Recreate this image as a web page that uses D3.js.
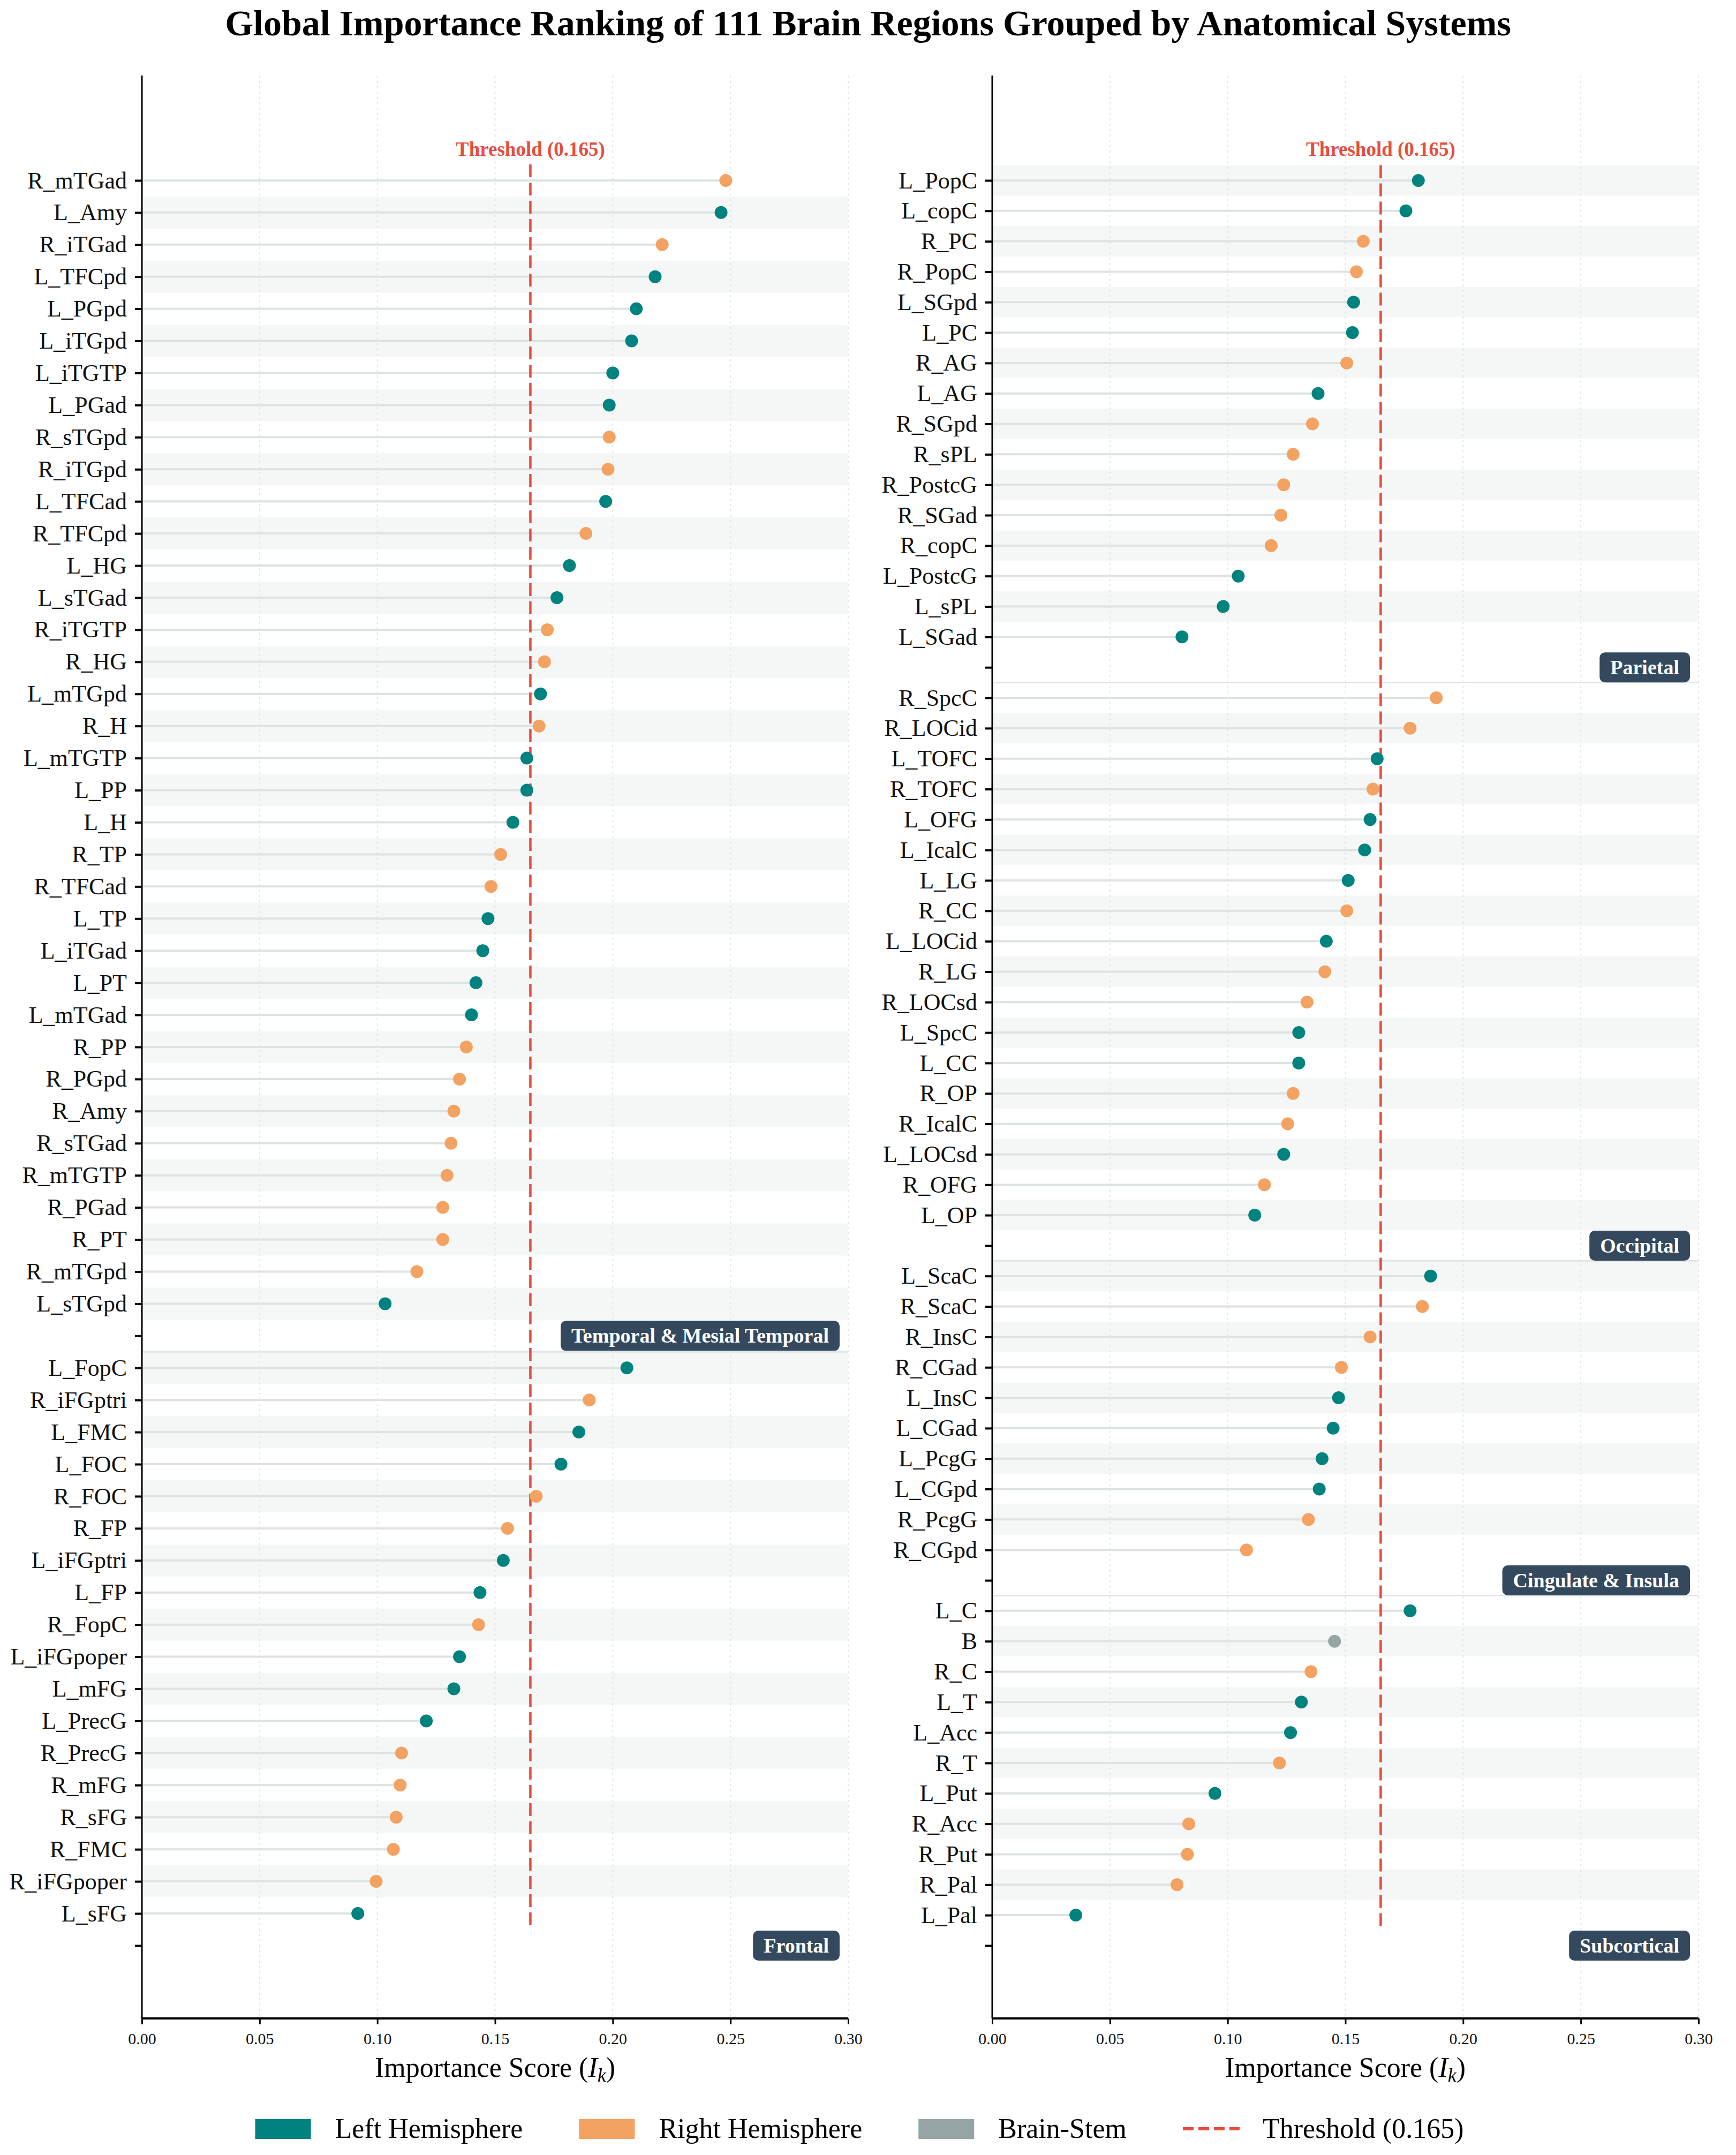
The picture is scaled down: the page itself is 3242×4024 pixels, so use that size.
<!DOCTYPE html>
<html>
<head>
<meta charset="utf-8">
<script src="https://cdn.jsdelivr.net/npm/d3@7"></script>
<style>
  body { margin: 0; background: #ffffff; }
  text { font-family: "Liberation Serif", "Times New Roman", serif; }
</style>
</head>
<body>
<script>
// region names and scores per anatomical system
var temporalNames = ["R_mTGad", "L_Amy", "R_iTGad", "L_TFCpd", "L_PGpd", "L_iTGpd", "L_iTGTP", "L_PGad",
  "R_sTGpd", "R_iTGpd", "L_TFCad", "R_TFCpd", "L_HG", "L_sTGad", "R_iTGTP", "R_HG", "L_mTGpd", "R_H",
  "L_mTGTP", "L_PP", "L_H", "R_TP", "R_TFCad", "L_TP", "L_iTGad", "L_PT", "L_mTGad", "R_PP", "R_PGpd",
  "R_Amy", "R_sTGad", "R_mTGTP", "R_PGad", "R_PT", "R_mTGpd", "L_sTGpd"];
var temporalValues = [0.248, 0.246, 0.221, 0.218, 0.210, 0.208, 0.200, 0.1985, 0.1985, 0.198, 0.197,
  0.1886, 0.1816, 0.1763, 0.1722, 0.171, 0.1693, 0.1687, 0.1635, 0.1635, 0.1576, 0.1524, 0.1483, 0.147,
  0.1448, 0.1419, 0.140, 0.1378, 0.1349, 0.1325, 0.1313, 0.1296, 0.1278, 0.1278, 0.1168, 0.1033];

var frontalNames = ["L_FopC", "R_iFGptri", "L_FMC", "L_FOC", "R_FOC", "R_FP", "L_iFGptri", "L_FP",
  "R_FopC", "L_iFGpoper", "L_mFG", "L_PrecG", "R_PrecG", "R_mFG", "R_sFG", "R_FMC", "R_iFGpoper", "L_sFG"];
var frontalValues = [0.206, 0.190, 0.1856, 0.178, 0.1675, 0.1553, 0.1535, 0.1436, 0.143, 0.1349, 0.1325,
  0.1208, 0.1103, 0.1097, 0.108, 0.1068, 0.0995, 0.0917];

var parietalNames = ["L_PopC", "L_copC", "R_PC", "R_PopC", "L_SGpd", "L_PC", "R_AG", "L_AG", "R_SGpd",
  "R_sPL", "R_PostcG", "R_SGad", "R_copC", "L_PostcG", "L_sPL", "L_SGad"];
var parietalValues = [0.181, 0.1757, 0.1576, 0.1547, 0.1535, 0.153, 0.1506, 0.1384, 0.136, 0.1278,
  0.1238, 0.1226, 0.1185, 0.1045, 0.0981, 0.0806];

var occipitalNames = ["R_SpcC", "R_LOCid", "L_TOFC", "R_TOFC", "L_OFG", "L_IcalC", "L_LG", "R_CC",
  "L_LOCid", "R_LG", "R_LOCsd", "L_SpcC", "L_CC", "R_OP", "R_IcalC", "L_LOCsd", "R_OFG", "L_OP"];
var occipitalValues = [0.1886, 0.1775, 0.1635, 0.1617, 0.1605, 0.1582, 0.1512, 0.1506, 0.1419, 0.1413,
  0.1337, 0.1302, 0.1302, 0.1278, 0.1255, 0.1238, 0.1156, 0.1115];

var cingulateNames = ["L_ScaC", "R_ScaC", "R_InsC", "R_CGad", "L_InsC", "L_CGad", "L_PcgG", "L_CGpd",
  "R_PcgG", "R_CGpd"];
var cingulateValues = [0.1862, 0.1827, 0.1605, 0.1483, 0.1471, 0.1448, 0.1401, 0.1389, 0.1343, 0.108];

var subcorticalNames = ["L_C", "B", "R_C", "L_T", "L_Acc", "R_T", "L_Put", "R_Acc", "R_Put", "R_Pal", "L_Pal"];
var subcorticalValues = [0.1775, 0.1454, 0.1354, 0.1313, 0.1267, 0.122, 0.0946, 0.0835, 0.0829, 0.0785, 0.0355];

var threshold = 0.165;
var xTicks = [0.00, 0.05, 0.10, 0.15, 0.20, 0.25, 0.30];
var legendLabels = ["Left Hemisphere", "Right Hemisphere", "Brain-Stem", "Threshold (0.165)"];

var leftGroups = [
  {name: "Temporal & Mesial Temporal", regions: temporalNames, values: temporalValues},
  {name: "Frontal", regions: frontalNames, values: frontalValues}
];
var rightGroups = [
  {name: "Parietal", regions: parietalNames, values: parietalValues},
  {name: "Occipital", regions: occipitalNames, values: occipitalValues},
  {name: "Cingulate & Insula", regions: cingulateNames, values: cingulateValues},
  {name: "Subcortical", regions: subcorticalNames, values: subcorticalValues}
];

// colours
var colLeft = "#00827f";
var colRight = "#f4a261";
var colStem = "#95a5a6";
var colRed = "#e74c3c";
var colBox = "#34495e";

function hemiColor(name) {
  if (name.indexOf("L_") == 0) return colLeft;
  if (name.indexOf("R_") == 0) return colRight;
  return colStem;
}

var width = 3242;
var height = 4024;
var plotTop = 141;
var plotBottom = 3769;

var svg = d3.select("body")
            .append("svg")
            .attr("width", width)
            .attr("height", height);

svg.append("rect")
   .attr("width", width)
   .attr("height", height)
   .attr("fill", "#ffffff");

// title
svg.append("text")
   .attr("x", width / 2)
   .attr("y", 66)
   .attr("text-anchor", "middle")
   .style("font-size", "68px")
   .style("font-weight", "bold")
   .text("Global Importance Ranking of 111 Brain Regions Grouped by Anatomical Systems");

function drawPanel(groups, left, right) {

  // builds the row list: every group ends with one empty row that holds its label
  var rows = [];
  groups.forEach(function(g, gi) {
    g.regions.forEach(function(r, i) {
      rows.push({label: r, value: g.values[i], group: gi, gap: false});
    });
    rows.push({label: "", value: null, group: gi, gap: true, name: g.name});
  });
  rows.forEach(function(d, i) { d.pos = i; });

  var n = rows.length;
  var span = (n - 1) / 0.9085;

  var x = d3.scaleLinear().domain([0, 0.30]).range([left, right]);
  var y = d3.scaleLinear().domain([-0.054 * span, n - 1 + 0.0375 * span]).range([plotTop, plotBottom]);
  var step = y(1) - y(0);

  var g = svg.append("g");

  // alternating background bands
  g.selectAll("rect.band")
   .data(rows.filter(function(d) { return !d.gap && (n - 1 - d.pos) % 2 == 0; }))
   .enter()
   .append("rect")
   .attr("class", "band")
   .attr("x", x(0))
   .attr("width", x(0.30) - x(0))
   .attr("y", function(d) { return y(d.pos) - step / 2; })
   .attr("height", step)
   .attr("fill", "#f5f7f7");

  // vertical grid
  g.selectAll("line.grid")
   .data(xTicks.slice(1))
   .enter()
   .append("line")
   .attr("x1", function(d) { return x(d); })
   .attr("x2", function(d) { return x(d); })
   .attr("y1", plotTop)
   .attr("y2", plotBottom)
   .attr("stroke", "#e3e6e6")
   .attr("stroke-width", 2)
   .attr("stroke-dasharray", "4,6");

  // separators between groups
  var seps = rows.filter(function(d) { return d.gap && d.group < groups.length - 1; });
  g.selectAll("line.sep")
   .data(seps)
   .enter()
   .append("line")
   .attr("x1", x(0))
   .attr("x2", x(0.30))
   .attr("y1", function(d) { return y(d.pos + 0.5); })
   .attr("y2", function(d) { return y(d.pos + 0.5); })
   .attr("stroke", "#e1e5e6")
   .attr("stroke-width", 3);

  var data = rows.filter(function(d) { return !d.gap; });

  // stems
  g.selectAll("line.stem")
   .data(data)
   .enter()
   .append("line")
   .attr("x1", x(0))
   .attr("x2", function(d) { return x(d.value); })
   .attr("y1", function(d) { return y(d.pos); })
   .attr("y2", function(d) { return y(d.pos); })
   .attr("stroke", "#dde2e2")
   .attr("stroke-width", 4);

  // threshold line and its label
  var lastData = data[data.length - 1].pos;
  g.append("line")
   .attr("x1", x(threshold))
   .attr("x2", x(threshold))
   .attr("y1", y(-0.5))
   .attr("y2", y(lastData + 0.5))
   .attr("stroke", colRed)
   .attr("stroke-width", 4.5)
   .attr("stroke-dasharray", "24,10");

  g.append("text")
   .attr("x", x(threshold))
   .attr("y", y(0) - 46)
   .attr("text-anchor", "middle")
   .attr("fill", colRed)
   .style("font-size", "37px")
   .style("font-weight", "bold")
   .text("Threshold (" + threshold + ")");

  // dots
  g.selectAll("circle.dot")
   .data(data)
   .enter()
   .append("circle")
   .attr("cx", function(d) { return x(d.value); })
   .attr("cy", function(d) { return y(d.pos); })
   .attr("r", 12)
   .attr("fill", function(d) { return hemiColor(d.label); });

  // group label boxes
  rows.filter(function(d) { return d.gap; }).forEach(function(d) {
    var lab = g.append("g");
    var t = lab.append("text")
               .attr("y", y(d.pos) + 13)
               .attr("fill", "#ffffff")
               .attr("text-anchor", "end")
               .attr("x", x(0.30) - 16 - 20)
               .style("font-size", "38px")
               .style("font-weight", "bold")
               .text(d.name);
    var w = t.node().getComputedTextLength();
    lab.insert("rect", "text")
       .attr("x", x(0.30) - 16 - 40 - w)
       .attr("width", w + 40)
       .attr("y", y(d.pos) - 28)
       .attr("height", 56)
       .attr("rx", 10)
       .attr("fill", colBox);
  });

  // y axis with region names
  var yAxis = d3.axisLeft(y)
                .tickValues(d3.range(n))
                .tickFormat(function(i) { return rows[i].label; })
                .tickSize(13)
                .tickPadding(15);
  var ya = g.append("g")
            .attr("transform", "translate(" + x(0) + ",0)")
            .call(yAxis);
  ya.select(".domain").attr("stroke-width", 3).attr("d", "M0," + plotTop + "V" + plotBottom);
  ya.selectAll(".tick line").attr("stroke-width", 4);
  ya.selectAll(".tick text")
    .attr("fill", "#111111")
    .style("font-family", "'Liberation Serif', serif")
    .style("font-size", "44px");

  // x axis
  var xAxis = d3.axisBottom(x)
                .tickValues(xTicks)
                .tickFormat(d3.format(".2f"))
                .tickSize(11)
                .tickPadding(16);
  var xa = g.append("g")
            .attr("transform", "translate(0," + plotBottom + ")")
            .call(xAxis);
  xa.select(".domain").attr("stroke-width", 4).attr("d", "M" + left + ",0H" + right);
  xa.selectAll(".tick line").attr("stroke-width", 3);
  xa.selectAll(".tick text")
    .attr("fill", "#111111")
    .style("font-family", "'Liberation Serif', serif")
    .style("font-size", "30px");

  // axis title
  var xt = g.append("text")
            .attr("x", (left + right) / 2)
            .attr("y", 3878)
            .attr("text-anchor", "middle")
            .style("font-size", "52px");
  xt.append("tspan").text("Importance Score (");
  xt.append("tspan").style("font-style", "italic").text("I");
  xt.append("tspan").style("font-style", "italic").style("font-size", "36px").attr("dy", 9).text("k");
  xt.append("tspan").attr("dy", -9).text(")");
}

drawPanel(leftGroups, 265, 1584);
drawPanel(rightGroups, 1853, 3172);

// legend along the bottom
var legend = svg.append("g");
var legendColors = [colLeft, colRight, colStem, colRed];
var cursor = 0;
legendLabels.forEach(function(lab, i) {
  var item = legend.append("g").attr("transform", "translate(" + cursor + ",0)");
  if (i < 3) {
    item.append("rect")
        .attr("x", 0)
        .attr("y", 3957)
        .attr("width", 104)
        .attr("height", 37)
        .attr("fill", legendColors[i]);
  } else {
    item.append("line")
        .attr("x1", 0)
        .attr("x2", 106)
        .attr("y1", 3975)
        .attr("y2", 3975)
        .attr("stroke", colRed)
        .attr("stroke-width", 6)
        .attr("stroke-dasharray", "20,9");
  }
  var t = item.append("text")
              .attr("x", 149)
              .attr("y", 3992)
              .style("font-size", "52px")
              .text(lab);
  cursor += 149 + t.node().getComputedTextLength() + 105;
});
var legendWidth = cursor - 105;
legend.attr("transform", "translate(" + (1605 - legendWidth / 2) + ",0)");
</script>
</body>
</html>
